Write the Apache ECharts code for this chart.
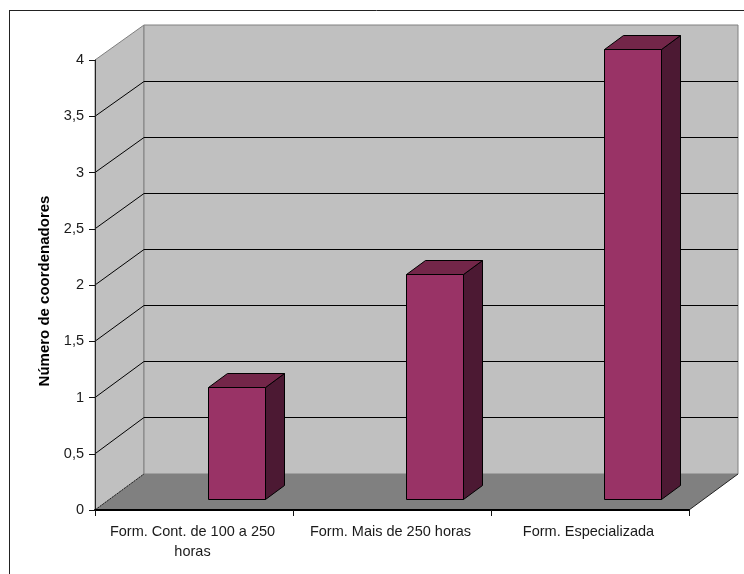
<!DOCTYPE html>
<html>
<head>
<meta charset="utf-8">
<style>html,body{margin:0;padding:0;background:#fff}#chart{width:744px;height:574px}</style>
<script src="https://cdn.jsdelivr.net/npm/echarts@6/dist/echarts.min.js"></script>
</head>
<body>
<div id="chart"></div>
<script>
// Formação dos coordenadores: contagem por tipo de formação
const categories = ['Form. Cont. de 100 a 250\nhoras', 'Form. Mais de 250 horas', 'Form. Especializada'];
const coordinators = [1, 2, 4];
const gridLevels = [0, 0.5, 1, 1.5, 2, 2.5, 3, 3.5, 4];

// Perspective of the box and of the bars, in pixels
const WALL_DX = 49, WALL_DY_TOP = 35, WALL_DY_BOTTOM = 36;
const BAR_SHIFT_X = 43, BAR_SHIFT_Y = 10.5, BAR_W = 57, BAR_DX = 19, BAR_DY = 14;

const crisp = v => Math.floor(v) + 0.5;
const INK = '#000';

function poly(points, fill, stroke) {
  return { type: 'polygon', shape: { points }, silent: true,
    style: { fill, stroke: stroke || null, lineWidth: 1, lineJoin: 'miter' } };
}
function line(x1, y1, x2, y2, stroke, dash) {
  return { type: 'line', shape: { x1, y1, x2, y2 }, silent: true,
    style: { stroke, lineWidth: 1, lineDash: dash || null } };
}

// Walls, floor and the gridlines that wrap around them
function renderBox(params, api) {
  const cs = params.coordSys;
  const xL = cs.x, xR = cs.x + cs.width, yT = cs.y, yB = cs.y + cs.height;
  const bxL = xL + WALL_DX, bxR = xR + WALL_DX, byT = yT - WALL_DY_TOP, byB = yB - WALL_DY_BOTTOM;
  const children = [
    poly([[xL, yB], [xL, yT], [bxL, byT], [bxL, byB]], '#C0C0C0', '#808080'),
    poly([[bxL, byT], [bxR, byT], [bxR, byB], [bxL, byB]], '#C0C0C0', '#808080'),
    poly([[xL, yB], [bxL, byB], [bxR, byB], [xR, yB]], '#808080', null)
  ];
  gridLevels.slice(1, -1).forEach(v => {
    const y = api.coord([0, v])[1];
    const back = crisp(byB + (y - yB) * (byB - byT) / (yB - yT));
    children.push(line(xL, y, bxL, back, INK));
    children.push(line(bxL, back, bxR, back, INK));
  });
  children.push(line(xL, yB, bxL, byB, '#222', [2, 1]));
  children.push(line(xR, yB, bxR, byB, '#222'));
  return { type: 'group', children };
}

// One bar as three visible faces: front, top and right side
function renderBar(params, api) {
  const i = api.value(0);
  const top = api.coord([i, api.value(1)]);
  const base = api.coord([i, 0]);
  const x0 = crisp(top[0] + BAR_SHIFT_X - BAR_W / 2);
  const x1 = x0 + BAR_W;
  const yT = crisp(top[1] - BAR_SHIFT_Y);
  const yB = crisp(base[1] - BAR_SHIFT_Y);
  return { type: 'group', children: [
    poly([[x1, yB], [x1, yT], [x1 + BAR_DX, yT - BAR_DY], [x1 + BAR_DX, yB - BAR_DY]], '#4C1933', INK),
    poly([[x0, yT], [x0 + BAR_DX, yT - BAR_DY], [x1 + BAR_DX, yT - BAR_DY], [x1, yT]], '#732649', INK),
    poly([[x0, yB], [x0, yT], [x1, yT], [x1, yB]], '#993366', INK)
  ] };
}

const labelFont = { fontFamily: '"Liberation Sans", Arial, sans-serif', fontSize: 14.5, color: '#1a1a1a' };

const chart = echarts.init(document.getElementById('chart'), null, { renderer: 'canvas' });
chart.setOption({
  animation: false,
  backgroundColor: '#fff',
  grid: { left: 95, top: 60, width: 594, height: 450, containLabel: false },
  xAxis: {
    type: 'category', data: categories, z: 5,
    axisLine: { lineStyle: { color: '#000', width: 2 } },
    axisTick: { show: true, length: 6, lineStyle: { color: '#111', width: 1 } },
    axisLabel: Object.assign({ margin: 12, lineHeight: 20, interval: 0, padding: [0, 3, 0, 0] }, labelFont),
    splitLine: { show: false }
  },
  yAxis: {
    type: 'value', min: 0, max: 4, interval: 0.5, z: 5,
    name: 'Número de coordenadores',
    nameLocation: 'middle', nameGap: 43, nameRotate: 90,
    nameTextStyle: { fontFamily: '"Liberation Sans", Arial, sans-serif', fontSize: 15, fontWeight: 'bold', color: '#000', padding: [0, 0, 0, -12] },
    axisLine: { show: true, lineStyle: { color: '#222', width: 1 } },
    axisTick: { show: true, length: 6, lineStyle: { color: '#111', width: 1 } },
    axisLabel: Object.assign({ margin: 11, formatter: v => String(v).replace('.', ',') }, labelFont),
    splitLine: { show: false }
  },
  graphic: [
    { type: 'line', silent: true, shape: { x1: 9.5, y1: 10, x2: 9.5, y2: 574 }, style: { stroke: '#222', lineWidth: 1 } },
    { type: 'line', silent: true, shape: { x1: 9, y1: 10.5, x2: 744, y2: 10.5 }, style: { stroke: '#222', lineWidth: 1 } }
  ],
  series: [
    { type: 'custom', z: 1, silent: true, renderItem: renderBox, data: [[0, 0]], encode: { x: 0, y: 1 } },
    { type: 'custom', z: 3, renderItem: renderBar, data: coordinators.map((v, i) => [i, v]), encode: { x: 0, y: 1 } }
  ]
});
</script>
</body>
</html>
